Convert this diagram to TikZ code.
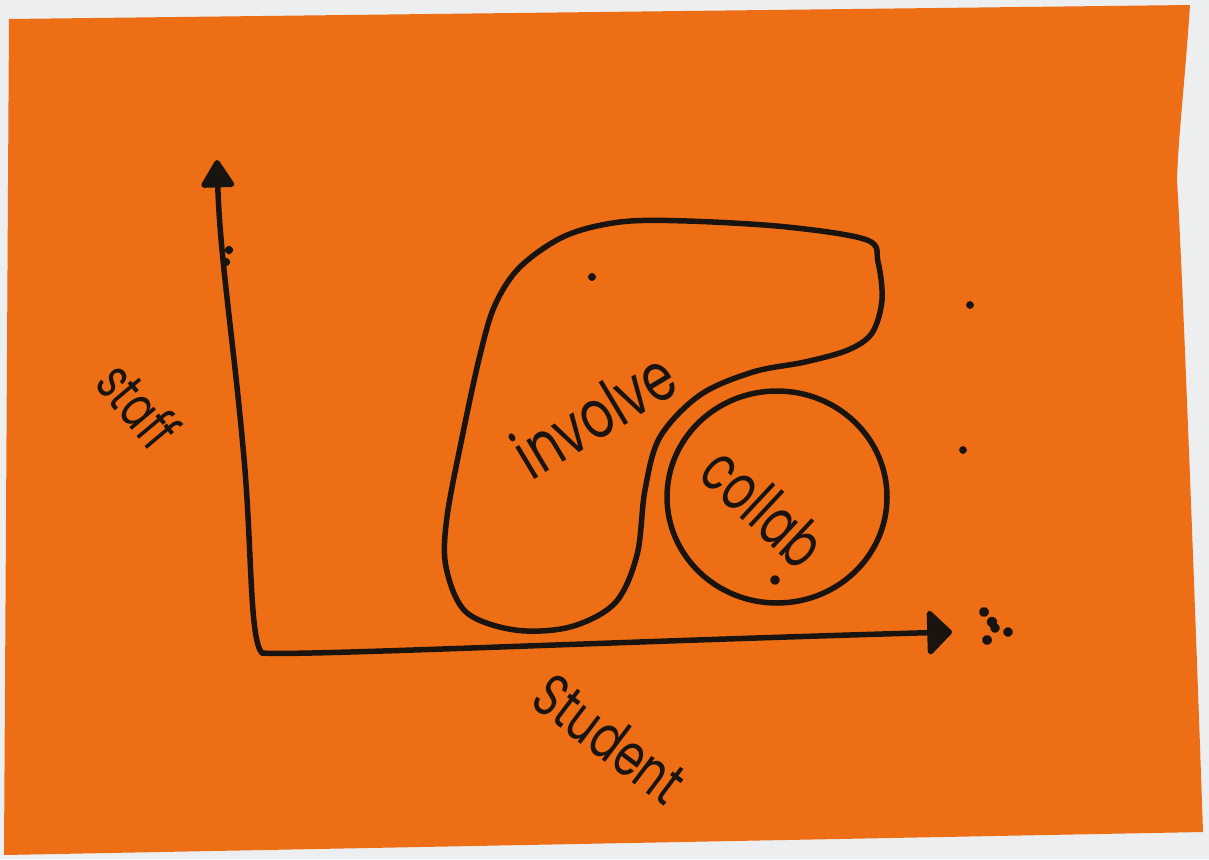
\documentclass[tikz,border=0pt]{standalone}
\usepackage{fontspec}
\setmainfont{Poppins}
\usetikzlibrary{arrows.meta}
\definecolor{paper}{RGB}{238,110,22}
\definecolor{wall}{RGB}{236,238,240}
\definecolor{ink}{RGB}{26,20,16}
\tikzset{
  ink/.style={draw=ink, line width=5.5pt, line cap=round, line join=round},
  hand/.style={text=ink, inner sep=0pt, font=\fontsize{50}{50}\selectfont},
}
\begin{document}
\begin{tikzpicture}[x=1pt,y=-1pt]
\useasboundingbox (0,0) rectangle (1209,859);
\fill[wall] (0,0) rectangle (1209,859);
% paper
\fill[paper] (9,19) -- (1190,5) .. controls (1185,80) and (1178,140) .. (1177,180)
  .. controls (1182,260) and (1195,600) .. (1203,832) -- (4,855) -- cycle;
% axes
\coordinate (ytip) at (217,160);
\coordinate (origin) at (262,653);
\coordinate (xtip) at (952,632);
\draw[ink, -{Triangle[length=30pt,width=36pt,round]}]
  (origin) .. controls (250,640) and (252,560) .. (245,470)
  .. controls (235,350) and (220,260) .. (ytip);
\draw[ink, -{Triangle[length=26pt,width=50pt,round]}]
  (origin) .. controls (300,656) and (600,642) .. (xtip);
% involve blob
\draw[ink] plot[smooth cycle, tension=0.55] coordinates {
  (867,240) (787,227) (687,221) (620,222) (565,236) (520,267) (495,305) (480,355)
  (463,433) (447,517) (446,567) (466,612) (515,630) (570,627) (615,603) (637,555)
  (645,490) (660,437) (700,395) (753,372) (805,362) (848,350) (872,333) (882,300) (878,262)};
% collab circle
\draw[ink] (777,497) ellipse [x radius=110, y radius=106];
% ink specks
\foreach \p/\r in {(984,612)/2.2,(992,622)/2.5,(987,640)/2.2,(1008,632)/2,(995,628)/2,(229,250)/1.5,(226,262)/1.5,(775,580)/2,(592,277)/1.3,(970,305)/1.2,(963,450)/1.2}
  \fill[ink] \p circle (\r pt);
% labels
\node[hand, rotate=31] (involve) at (594,414) {\scalebox{1}[1.35]{involve}};
\node[hand, rotate=-43] (collab) at (764,507) {\scalebox{0.9}[1.3]{collab}};
\node[hand, rotate=-37] (student) at (610,738) {\scalebox{0.88}[1.2]{Student}};
\node[hand, rotate=-50] (staff) at (139,405) {\scalebox{0.82}[1.15]{staff}};
\end{tikzpicture}
\end{document}
